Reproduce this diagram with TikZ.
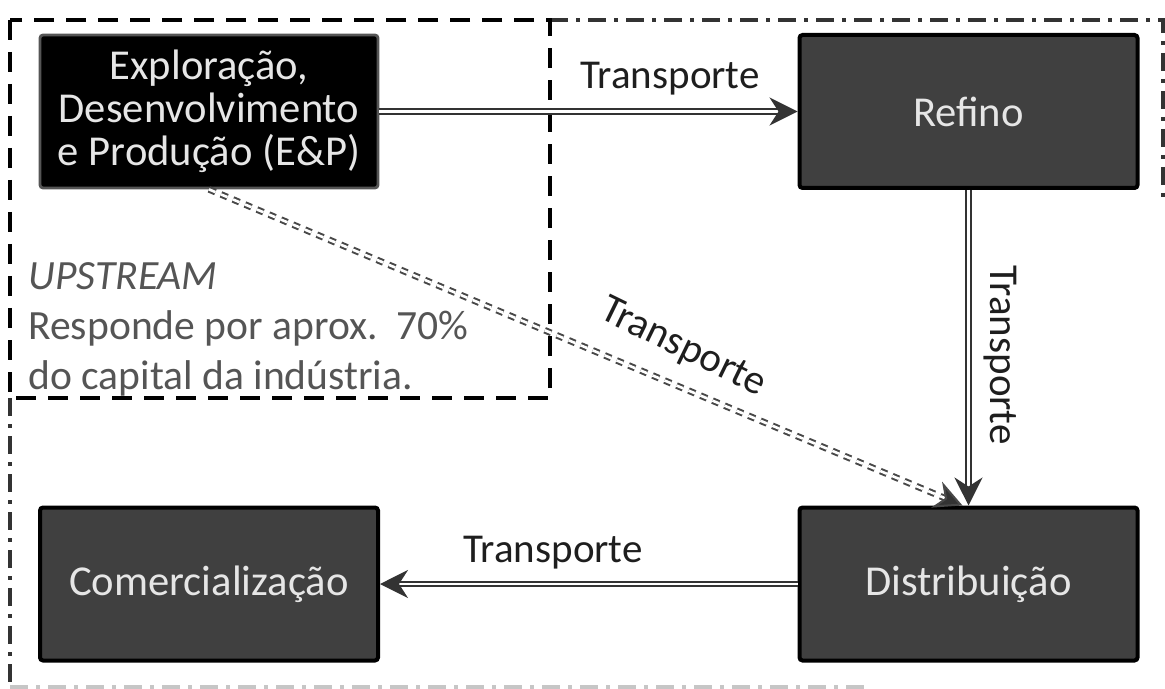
\documentclass[tikz,border=0pt]{standalone}
\usepackage{fontspec}
\setmainfont{Carlito}
\usetikzlibrary{arrows.meta}
\definecolor{boxfill}{HTML}{404040}
\definecolor{boxtext}{HTML}{E6E6E6}
\definecolor{lbl}{HTML}{1E1E1E}
\definecolor{note}{HTML}{555555}
\definecolor{conn}{HTML}{333333}
\begin{document}
\begin{tikzpicture}[x=0.5pt,y=-0.5pt,
  stage/.style={draw=black,line width=2pt,fill=boxfill,rounded corners=1.5pt,
    minimum width=169pt,minimum height=76.5pt,inner sep=0pt,align=center,
    text=boxtext,font=\fontsize{21.3}{21.5}\selectfont},
  epbox/.style={stage,draw=note,line width=1.4pt,fill=black},
  lab/.style={text=lbl,font=\fontsize{20.5}{22}\selectfont,inner sep=0pt},
  dbl/.style={draw=conn,line width=1pt,double=white,double distance=1.3pt,
    -{Stealth[length=14pt,width=14pt,inset=4.5pt,fill=conn]}},
  dbldash/.style={dbl,draw=note!85!black,dash pattern=on 3.5pt off 3pt},
  upbox/.style={draw=black,line width=2pt,dash pattern=on 10pt off 6pt},
  outerbox/.style={draw=conn,line width=1.8pt,dash pattern=on 9pt off 4pt on 2pt off 4pt}
]
\useasboundingbox (0,0) rectangle (1165,689);
% frames
\draw[outerbox] (10,398) -- (10,689);
\draw[outerbox] (550,20) -- (1163,20) -- (1163,200);
\draw[outerbox,draw=gray!45] (10,687) -- (870,687);
\draw[upbox] (10,20) rectangle (550,398);
% boxes
\node[epbox] (ep) at (209,111.5) {Exploração,\\Desenvolvimento\\e Produção (E\&P)};
\node[stage] (ref) at (968.5,111.5) {Refino};
\node[stage] (dist) at (968.5,584) {Distribuição};
\node[stage] (com) at (209,584) {Comercialização};
% note
\node[anchor=north west,align=left,text=note,inner sep=0pt,
  font=\fontsize{20.8}{25}\selectfont] (up) at (28,262)
  {\textit{UPSTREAM}\\Responde por aprox.\ \ 70\%\\do capital da indústria.};
% connectors
\draw[dbl] (ep.east) -- (ref.west);
\draw[dbl] (ref.south) -- (dist.north);
\draw[dbl] (dist.west) -- (com.east);
\draw[dbldash] (ep.south) -- ([xshift=-3pt]dist.north);
% labels
\node[lab] (l1) at (670,79) {Transporte};
\node[lab,rotate=-90] (l2) at (1000,355) {Transporte};
\node[lab] (l3) at (553,553) {Transporte};
\node[lab,rotate=-26] (l4) at (683,348) {Transporte};
\end{tikzpicture}
\end{document}
